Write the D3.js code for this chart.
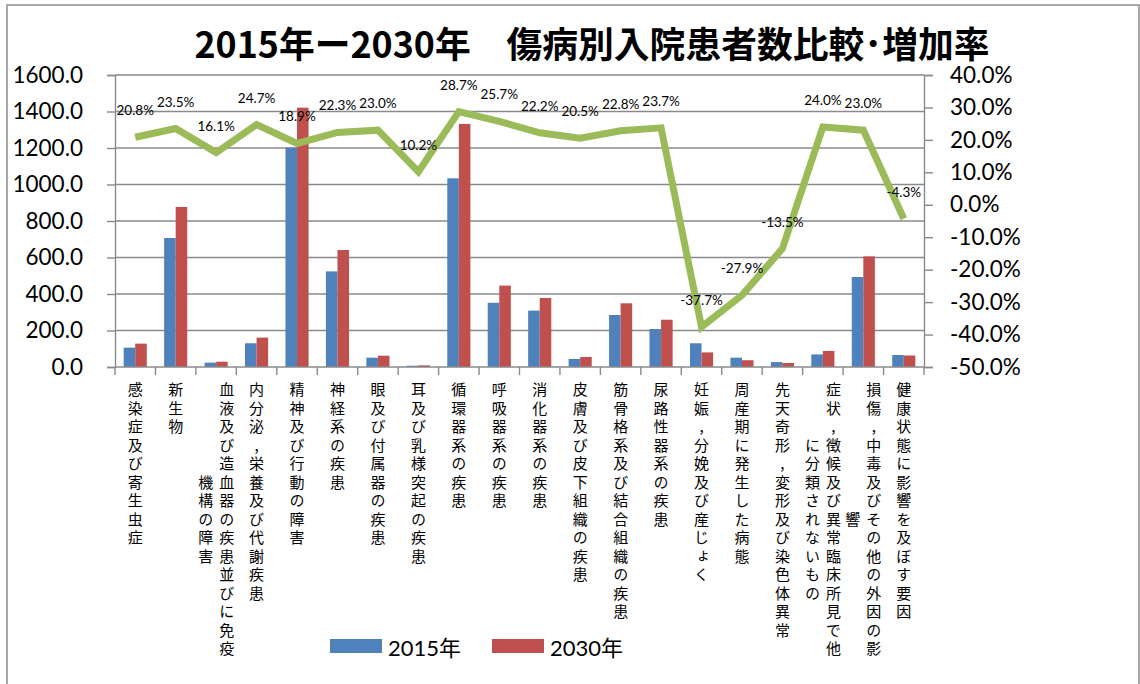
<!DOCTYPE html>
<html>
<head>
<meta charset="utf-8">
<script src="https://cdn.jsdelivr.net/npm/d3@7"></script>
<style>
  body { margin: 0; background: #fff; }
  svg { display: block; }
</style>
</head>
<body>
<div id="chart"></div>
<script>
// データ
const categories = [
  "感染症及び寄生虫症", "新生物", "血液及び造血器の疾患並びに免疫機構の障害",
  "内分泌，栄養及び代謝疾患", "精神及び行動の障害", "神経系の疾患",
  "眼及び付属器の疾患", "耳及び乳様突起の疾患", "循環器系の疾患",
  "呼吸器系の疾患", "消化器系の疾患", "皮膚及び皮下組織の疾患",
  "筋骨格系及び結合組織の疾患", "尿路性器系の疾患", "妊娠，分娩及び産じょく",
  "周産期に発生した病態", "先天奇形，変形及び染色体異常",
  "症状，徴候及び異常臨床所見で他に分類されないもの",
  "損傷，中毒及びその他の外因の影響", "健康状態に影響を及ぼす要因"
];
const values2015 = [106, 707, 24, 130, 1202, 524, 51, 7, 1034, 352, 309, 44, 285, 208, 130, 51, 27, 69, 493, 66];
const values2030 = [128, 877, 29, 161, 1421, 641, 62, 9, 1332, 446, 378, 55, 349, 259, 80, 37, 22, 88, 606, 63];
const growthRate = [20.8, 23.5, 16.1, 24.7, 18.9, 22.3, 23.0, 10.2, 28.7, 25.7, 22.2, 20.5, 22.8, 23.7, -37.7, -27.9, -13.5, 24.0, 23.0, -4.3];
const leftTicks = [0, 200, 400, 600, 800, 1000, 1200, 1400, 1600];
const rightTicks = [-50, -40, -30, -20, -10, 0, 10, 20, 30, 40];
const seriesNames = ["2015年", "2030年"];

const W = 1140, H = 684;
const plot = { left: 115, right: 924, top: 75, bottom: 367 };
const latin = "Lato, 'Noto Sans CJK JP', sans-serif";
const jp = "'Noto Sans CJK JP', sans-serif";
const gridColor = "#8a8a8a";

const svg = d3.select("#chart").append("svg")
    .attr("width", W).attr("height", H);

// 外枠
svg.append("rect")
    .attr("x", 7).attr("y", 5)
    .attr("width", 1132).attr("height", 700)
    .attr("fill", "#fff")
    .attr("stroke", "#8c8c8c").attr("stroke-width", 1.5);

// タイトル
svg.append("text")
    .attr("x", 592).attr("y", 58)
    .attr("text-anchor", "middle")
    .attr("textLength", 795)
    .attr("lengthAdjust", "spacingAndGlyphs")
    .style("font-family", jp)
    .style("font-weight", 700)
    .style("font-size", "36px")
    .text("2015年ー2030年　傷病別入院患者数比較･増加率");

const x = d3.scaleBand()
    .domain(d3.range(categories.length))
    .range([plot.left, plot.right]);

const y = d3.scaleLinear().domain([0, 1600]).range([plot.bottom, plot.top]);
const y2 = d3.scaleLinear().domain([-50, 40]).range([plot.bottom, plot.top]);

// グリッド線
svg.append("g")
    .selectAll("line")
    .data(leftTicks.slice(1))
    .enter().append("line")
    .attr("x1", plot.left).attr("x2", plot.right)
    .attr("y1", d => y(d)).attr("y2", d => y(d))
    .attr("stroke", gridColor).attr("stroke-width", 1.4);

// 左軸
const leftAxis = svg.append("g")
    .attr("transform", `translate(${plot.left},0)`)
    .call(d3.axisLeft(y).tickValues(leftTicks).tickFormat(d3.format(".1f")).tickSize(8).tickPadding(24));
leftAxis.select(".domain").attr("stroke", gridColor).attr("stroke-width", 1.4);
leftAxis.selectAll(".tick line").attr("stroke", gridColor).attr("stroke-width", 1.4);
leftAxis.selectAll("text")
    .style("font-family", latin).style("font-size", "22.5px").attr("fill", "#000");

// 右軸
const rightAxis = svg.append("g")
    .attr("transform", `translate(${plot.right},0)`)
    .call(d3.axisRight(y2).tickValues(rightTicks).tickFormat(d => d.toFixed(1) + "%").tickSize(9).tickPadding(17));
rightAxis.select(".domain").attr("stroke", gridColor).attr("stroke-width", 1.4);
rightAxis.selectAll(".tick line").attr("stroke", gridColor).attr("stroke-width", 1.4);
rightAxis.selectAll("text")
    .style("font-family", latin).style("font-size", "22.5px").attr("fill", "#000");

// 棒グラフ
const bw = x.bandwidth() / 3.5;
const colors = ["#4F81BD", "#C0504D"];
[values2015, values2030].forEach((vals, s) => {
    svg.append("g")
        .selectAll("rect")
        .data(vals)
        .enter().append("rect")
        .attr("x", (d, i) => x(i) + x.bandwidth() / 2 - bw + s * bw)
        .attr("y", d => y(d))
        .attr("width", bw)
        .attr("height", d => plot.bottom - y(d))
        .attr("fill", colors[s]);
});

// 下軸（目盛り）
svg.append("line")
    .attr("x1", plot.left).attr("x2", plot.right)
    .attr("y1", plot.bottom).attr("y2", plot.bottom)
    .attr("stroke", gridColor).attr("stroke-width", 1.4);
svg.append("g")
    .selectAll("line")
    .data(d3.range(categories.length + 1))
    .enter().append("line")
    .attr("x1", i => plot.left + i * x.step())
    .attr("x2", i => plot.left + i * x.step())
    .attr("y1", plot.bottom).attr("y2", plot.bottom + 8)
    .attr("stroke", gridColor).attr("stroke-width", 1.4);

// 増加率の折れ線
const line = d3.line()
    .x((d, i) => x(i) + x.bandwidth() / 2)
    .y(d => y2(d));
svg.append("path")
    .datum(growthRate)
    .attr("d", line)
    .attr("fill", "none")
    .attr("stroke", "#9BBB59")
    .attr("stroke-width", 7)
    .attr("stroke-linejoin", "miter");

svg.append("g")
    .selectAll("text")
    .data(growthRate)
    .enter().append("text")
    .attr("x", (d, i) => x(i) + x.bandwidth() / 2)
    .attr("y", d => y2(d) - 22)
    .attr("text-anchor", "middle")
    .style("font-family", latin)
    .style("font-size", "13.5px")
    .text(d => d.toFixed(1) + "%");

// カテゴリラベル（縦書き、15文字で折り返し）
const perCol = 15, fontSize = 15, pitch = 18.5, colGap = 21, labelTop = 382;
categories.forEach((name, i) => {
    const chars = Array.from(name);
    const cols = [];
    for (let k = 0; k < chars.length; k += perCol) cols.push(chars.slice(k, k + perCol).join(""));
    const maxLen = Array.from(cols[0]).length;
    const cx = x(i) + x.bandwidth() / 2;
    cols.forEach((col, c) => {
        const colX = cx + (cols.length - 1) * colGap / 2 - c * colGap;
        const offset = Math.floor((maxLen - Array.from(col).length) / 2);
        svg.append("text")
            .attr("x", colX)
            .attr("y", labelTop + offset * pitch)
            .style("writing-mode", "vertical-rl")
            .style("text-orientation", "upright")
            .style("letter-spacing", (pitch - fontSize) + "px")
            .style("font-family", jp)
            .style("font-size", fontSize + "px")
            .text(col.replace(/，/g, ","));
    });
});

// 凡例
const legendX = [330, 492];
seriesNames.forEach((nm, s) => {
    svg.append("rect")
        .attr("x", legendX[s]).attr("y", 639)
        .attr("width", 52).attr("height", 14)
        .attr("fill", colors[s]);
    svg.append("text")
        .attr("x", legendX[s] + 58).attr("y", 656)
        .style("font-family", latin)
        .style("font-size", "22px")
        .text(nm);
});
</script>
</body>
</html>
